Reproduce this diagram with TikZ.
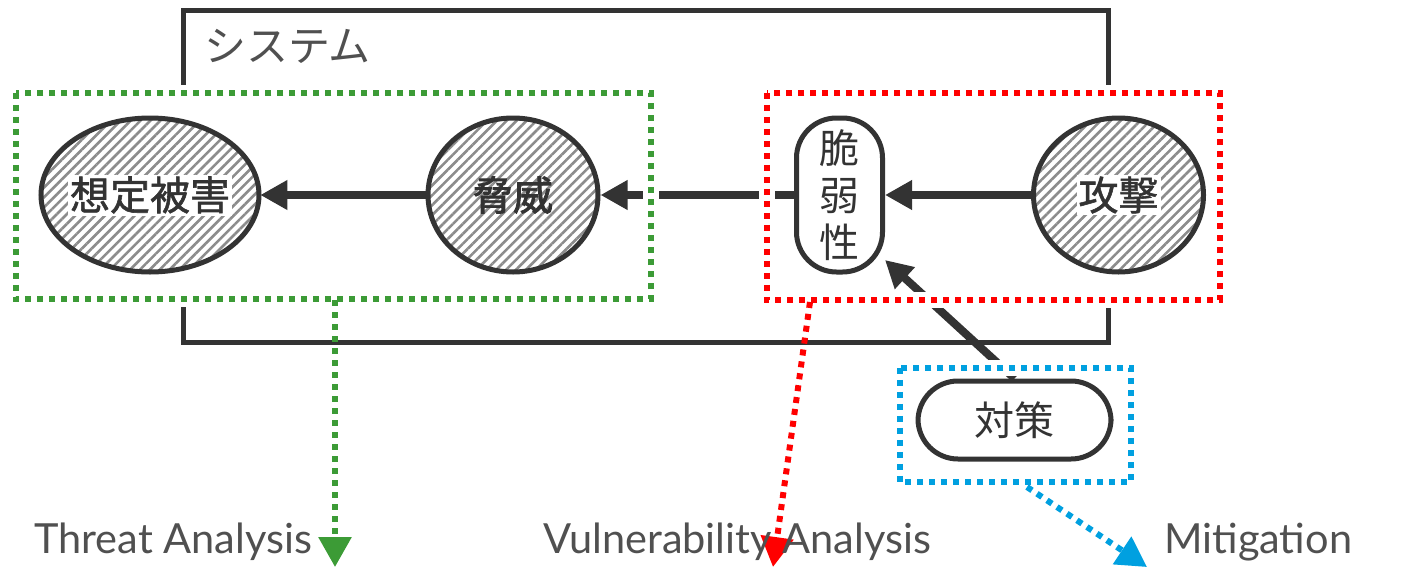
\documentclass[tikz,border=0pt]{standalone}
\usepackage{fontspec}
\newfontfamily\jp{Noto Sans CJK JP}
\newfontfamily\jpmed{Noto Sans CJK JP}[FakeBold=1.4]
\newfontfamily\jpheavy{Noto Sans CJK JP}[FakeBold=2.2]
\newfontfamily\lat{Lato}
\usetikzlibrary{shapes.geometric,arrows.meta,patterns.meta}
\definecolor{ink}{HTML}{333333}
\definecolor{soft}{HTML}{505050}
\definecolor{tgreen}{HTML}{3C9B36}
\definecolor{vred}{HTML}{FF0000}
\definecolor{mblue}{HTML}{00A0E0}
\definecolor{hatchgray}{HTML}{8C8C8C}
\tikzset{
  hatched/.style={preaction={fill=white},
    pattern={Lines[angle=45,distance=7pt,line width=2.6pt]}, pattern color=hatchgray},
  oval/.style={ellipse, draw=ink, line width=5pt, inner sep=0pt, hatched},
  capsule/.style={rectangle, rounded corners=40pt, draw=ink, line width=5pt,
    fill=white, inner sep=0pt},
  flow/.style={draw=ink, line width=8pt, -{Triangle[length=27pt,width=28pt]}},
  zone/.style={rectangle, inner sep=0pt, fill=white, draw=none},
  dotline/.style={line width=6pt, dash pattern=on 6pt off 6pt},
  halo/.style={draw=white, line width=16pt},
  jptext/.style={font=\jp\fontsize{40}{47}\selectfont, text=ink},
  jpmedium/.style={font=\jpmed\fontsize{40}{47}\selectfont, text=ink},
  jpstrong/.style={font=\jpheavy\fontsize{40}{47}\selectfont, text=ink},
  caption/.style={font=\lat\fontsize{41.5}{48}\selectfont, text=soft, inner sep=0pt, anchor=base west},
  sysline/.style={draw=ink, line width=5pt},
}
\begin{document}
\begin{tikzpicture}[x=1pt,y=-1pt]
\useasboundingbox (0,0) rectangle (1422,568);

% system boundary and its title
\draw[sysline] (183,10) rectangle (1108,342);
\node[font=\jp\fontsize{42}{48}\selectfont, text=soft, anchor=west, inner sep=0pt] (systitle) at (204,46) {システム};

% analysis zones (white ground)
\node[zone, minimum width=635pt, minimum height=206pt] (gbox) at (333.5,196) {};
\node[zone, minimum width=453pt, minimum height=207pt] (rbox) at (993.5,196.5) {};
\node[zone, minimum width=231pt, minimum height=114pt] (bbox) at (1015.5,425) {};

% elements
\node[oval, minimum width=218pt, minimum height=154pt] (dmg) at (150,195) {};
\node[jpmedium, fill=white, inner sep=2pt] (dmgt) at (dmg) {想定被害};
\node[oval, minimum width=170pt, minimum height=154pt] (thr) at (513,195) {};
\node[jpstrong] (thrt) at (thr) {脅威};
\node[capsule, minimum width=86pt, minimum height=154pt] (vul) at (839.5,195) {};
\node[jptext, align=center] (vult) at (vul) {脆\\弱\\性};
\node[oval, minimum width=170pt, minimum height=154pt] (atk) at (1118.5,195) {};
\node[jpmedium, fill=white, inner sep=2pt] (atkt) at (atk) {攻撃};
\node[capsule, minimum width=193pt, minimum height=78pt] (ctm) at (1014.5,420) {};
\node[jptext] (ctmt) at (ctm) {対策};

% causal flow
\draw[flow] (thr) -- (dmg);
\draw[flow] (vul) -- (thr);
\draw[flow] (atk) -- (vul);
\draw[flow] (ctm.north) -- (vul.-55);

% zone borders
\foreach \b/\c in {gbox/tgreen, rbox/vred, bbox/mblue}{
  \draw[halo] (\b.north west) rectangle (\b.south east);
  \draw[dotline, draw=\c] (\b.north west) rectangle (\b.south east);
}

% outputs of each zone
\coordinate (gs) at (335,300);
\coordinate (ge) at (335,567);
\coordinate (rs) at (810,302);
\coordinate (re) at (773,567);
\coordinate (bs) at (1027,487);
\coordinate (be) at (1147,567);
\draw[dotline, draw=tgreen, -{Triangle[length=30pt,width=32pt,fill=tgreen]}] (gs) -- (ge);
\draw[dotline, draw=vred, -{Triangle[length=30pt,width=32pt,fill=vred]}] (rs) -- (re);
\draw[dotline, draw=mblue, -{Triangle[length=30pt,width=32pt,fill=mblue]}] (bs) -- (be);

\node[caption] (tal) at (34,553) {Threat Analysis};
\node[caption] (val) at (543,553) {Vulnerability Analysis};
\node[caption] (mil) at (1164,553) {Mitigation};
\end{tikzpicture}
\end{document}
